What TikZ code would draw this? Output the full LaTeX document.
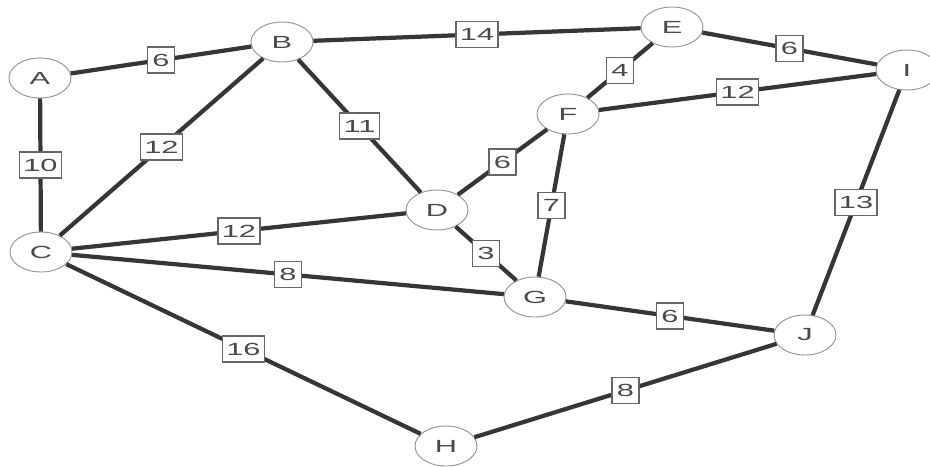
\documentclass[tikz,border=0pt]{standalone}
\usepackage{fontspec}
\newfontfamily\graphfont[FakeStretch=1.75]{Liberation Sans}
\usetikzlibrary{shapes.geometric}
\definecolor{edgecol}{HTML}{363636}
\definecolor{txtcol}{HTML}{4A4A4A}
\definecolor{ringcol}{HTML}{959595}
\definecolor{boxcol}{HTML}{666666}
\tikzset{
  vertex/.style={ellipse, draw=ringcol, line width=0.8pt, fill=white,
    minimum width=1.86cm, minimum height=1.2cm, inner sep=0pt,
    text=txtcol, font=\graphfont\fontsize{15}{18}\selectfont},
  link/.style={draw=edgecol, line width=3.6pt},
  weight/.style={rectangle, draw=boxcol, line width=1.4pt, fill=white,
    minimum width=0.8cm, minimum height=0.78cm, inner xsep=0.12cm, inner ysep=0pt,
    text=txtcol, font=\graphfont\fontsize{15}{18}\selectfont}
}
\begin{document}
\begin{tikzpicture}[x=0.03cm,y=-0.03cm]
\useasboundingbox (0,0) rectangle (930,466);
\fill[white] (0,0) rectangle (930,466);
% vertices
\node[vertex] (A) at (40,78) {A};
\node[vertex] (B) at (282,42) {B};
\node[vertex] (E) at (672,27) {E};
\node[vertex] (I) at (907,70) {I};
\node[vertex] (F) at (568,114) {F};
\node[vertex] (D) at (437,210) {D};
\node[vertex] (C) at (41,252) {C};
\node[vertex] (G) at (535,297) {G};
\node[vertex] (J) at (805,335) {J};
\node[vertex] (H) at (446,446) {H};
% edges with weights
\path[link] (A) -- node[weight] (wAB) {6} (B);
\path[link] (B) -- node[weight] (wBE) {14} (E);
\path[link] (E) -- node[weight] (wEI) {6} (I);
\path[link] (E) -- node[weight] (wEF) {4} (F);
\path[link] (F) -- node[weight] (wFI) {12} (I);
\path[link] (A) -- node[weight] (wAC) {10} (C);
\path[link] (B) -- node[weight] (wBC) {12} (C);
\path[link] (B) -- node[weight] (wBD) {11} (D);
\path[link] (D) -- node[weight] (wDF) {6} (F);
\path[link] (F) -- node[weight] (wFG) {7} (G);
\path[link] (I) -- node[weight] (wIJ) {13} (J);
\path[link] (C) -- node[weight] (wCD) {12} (D);
\path[link] (D) -- node[weight] (wDG) {3} (G);
\path[link] (C) -- node[weight] (wCG) {8} (G);
\path[link] (G) -- node[weight] (wGJ) {6} (J);
\path[link] (C) -- node[weight] (wCH) {16} (H);
\path[link] (H) -- node[weight] (wHJ) {8} (J);
\end{tikzpicture}
\end{document}
